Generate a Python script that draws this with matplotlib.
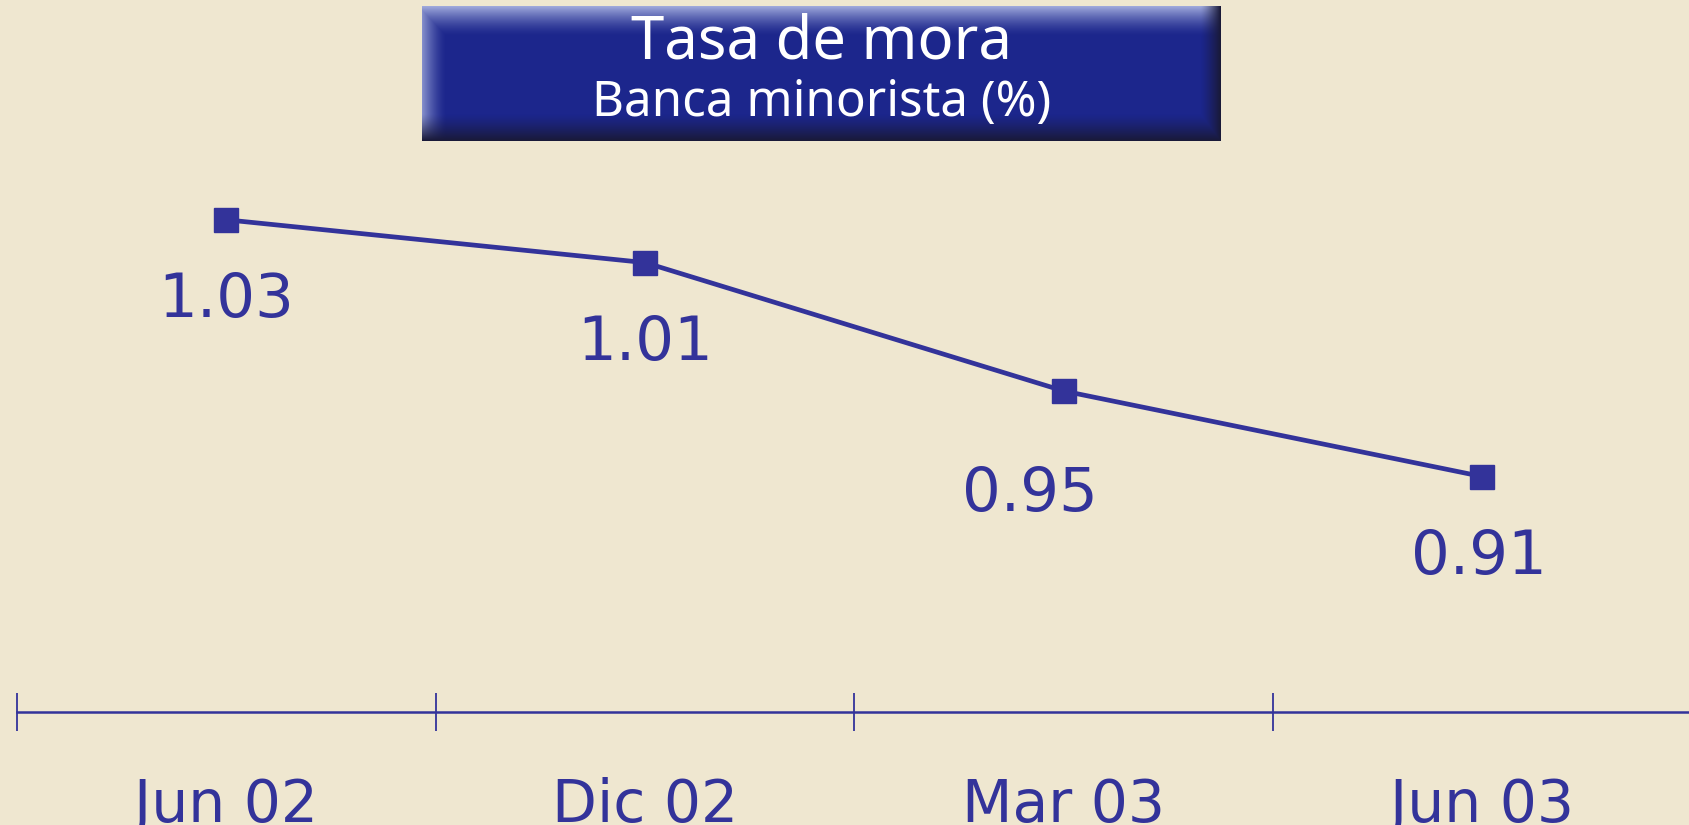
import numpy as np
import matplotlib
matplotlib.use("Agg")
import matplotlib.pyplot as plt

# ---- data ----
categories = ["Jun 02", "Dic 02", "Mar 03", "Jun 03"]
values = [1.03, 1.01, 0.95, 0.91]
value_labels = ["1.03", "1.01", "0.95", "0.91"]
title_line1 = "Tasa de mora"
title_line2 = "Banca minorista (%)"

# ---- style ----
BG = "#EFE7D0"
BLUE = "#33339A"
FONT = ["DejaVu Sans"]
TFONT = ["Noto Sans", "DejaVu Sans"]
label_offsets_px = [(0, -81), (0, -81), (-34, -103), (-4, -81)]

W, H = 1689, 825
fig = plt.figure(figsize=(W / 100, H / 100), dpi=100, facecolor=BG)

ax = fig.add_axes([17 / W, (H - 712) / H, 1 - 17 / W, 712 / H])
ax.set_facecolor(BG)
x = np.arange(len(categories))
ax.plot(x, values, color=BLUE, lw=3.4, marker="s", ms=17, mfc=BLUE, mec=BLUE,
        clip_on=False, zorder=3)
ax.set_xlim(-0.5, -0.5 + (W - 17) / 418.7)
ax.set_ylim(0.80, 0.80 + 712 / 2140)

for xi, v, lab, (dx, dy) in zip(x, values, value_labels, label_offsets_px):
    ax.annotate(lab, (xi, v), xytext=(dx * 0.72, dy * 0.72), textcoords="offset points",
                ha="center", va="center", color=BLUE, fontsize=44, family=FONT)

for s in ["left", "right", "top"]:
    ax.spines[s].set_visible(False)
ax.spines["bottom"].set_color(BLUE)
ax.spines["bottom"].set_linewidth(1.8)
ax.set_yticks([])
ax.set_xticks(x)
ax.set_xticklabels(categories, fontsize=42, color=BLUE, family=FONT)
ax.tick_params(axis="x", which="major", length=0, pad=47)
ax.set_xticks(np.arange(len(categories)) - 0.5, minor=True)
ax.tick_params(axis="x", which="minor", direction="inout", length=27, width=1.3, color=BLUE)

# ---- title box with bevel ----
bx0, by0, bx1, by1 = 422, 6, 1221, 141
tax = fig.add_axes([bx0 / W, (H - by1) / H, (bx1 - bx0) / W, (by1 - by0) / H])
tax.set_axis_off()
nh, nw = 135, 799
base = np.array([28, 38, 140]) / 255.0
img = np.ones((nh, nw, 3)) * base
yy = np.linspace(0, 1, nh)[:, None]
xx = np.linspace(0, 1, nw)[None, :]
light = np.array([0.62, 0.66, 0.86])
dark = np.array([0.10, 0.10, 0.22])
top = np.clip(1 - yy / 0.22, 0, 1) ** 1.5
left = np.clip(1 - xx / 0.03, 0, 1) ** 1.5
bot = np.clip((yy - 0.8) / 0.2, 0, 1) ** 1.3
right = np.clip((xx - 0.975) / 0.025, 0, 1) ** 1.3
lw_ = np.maximum(top, left * 0.8)[..., None]
dw_ = np.maximum(bot, right)[..., None]
img = img * (1 - lw_) + light * lw_
img = img * (1 - dw_) + dark * dw_
tax.imshow(img, aspect="auto", extent=[0, 1, 0, 1])
tax.set_xlim(0, 1)
tax.set_ylim(0, 1)
tax.text(0.5, 0.73, title_line1, ha="center", va="center", color="white",
         fontsize=43, family=TFONT)
tax.text(0.5, 0.28, title_line2, ha="center", va="center", color="white",
         fontsize=35.5, family=TFONT)

fig.savefig("out.png", dpi=100, facecolor=BG)
